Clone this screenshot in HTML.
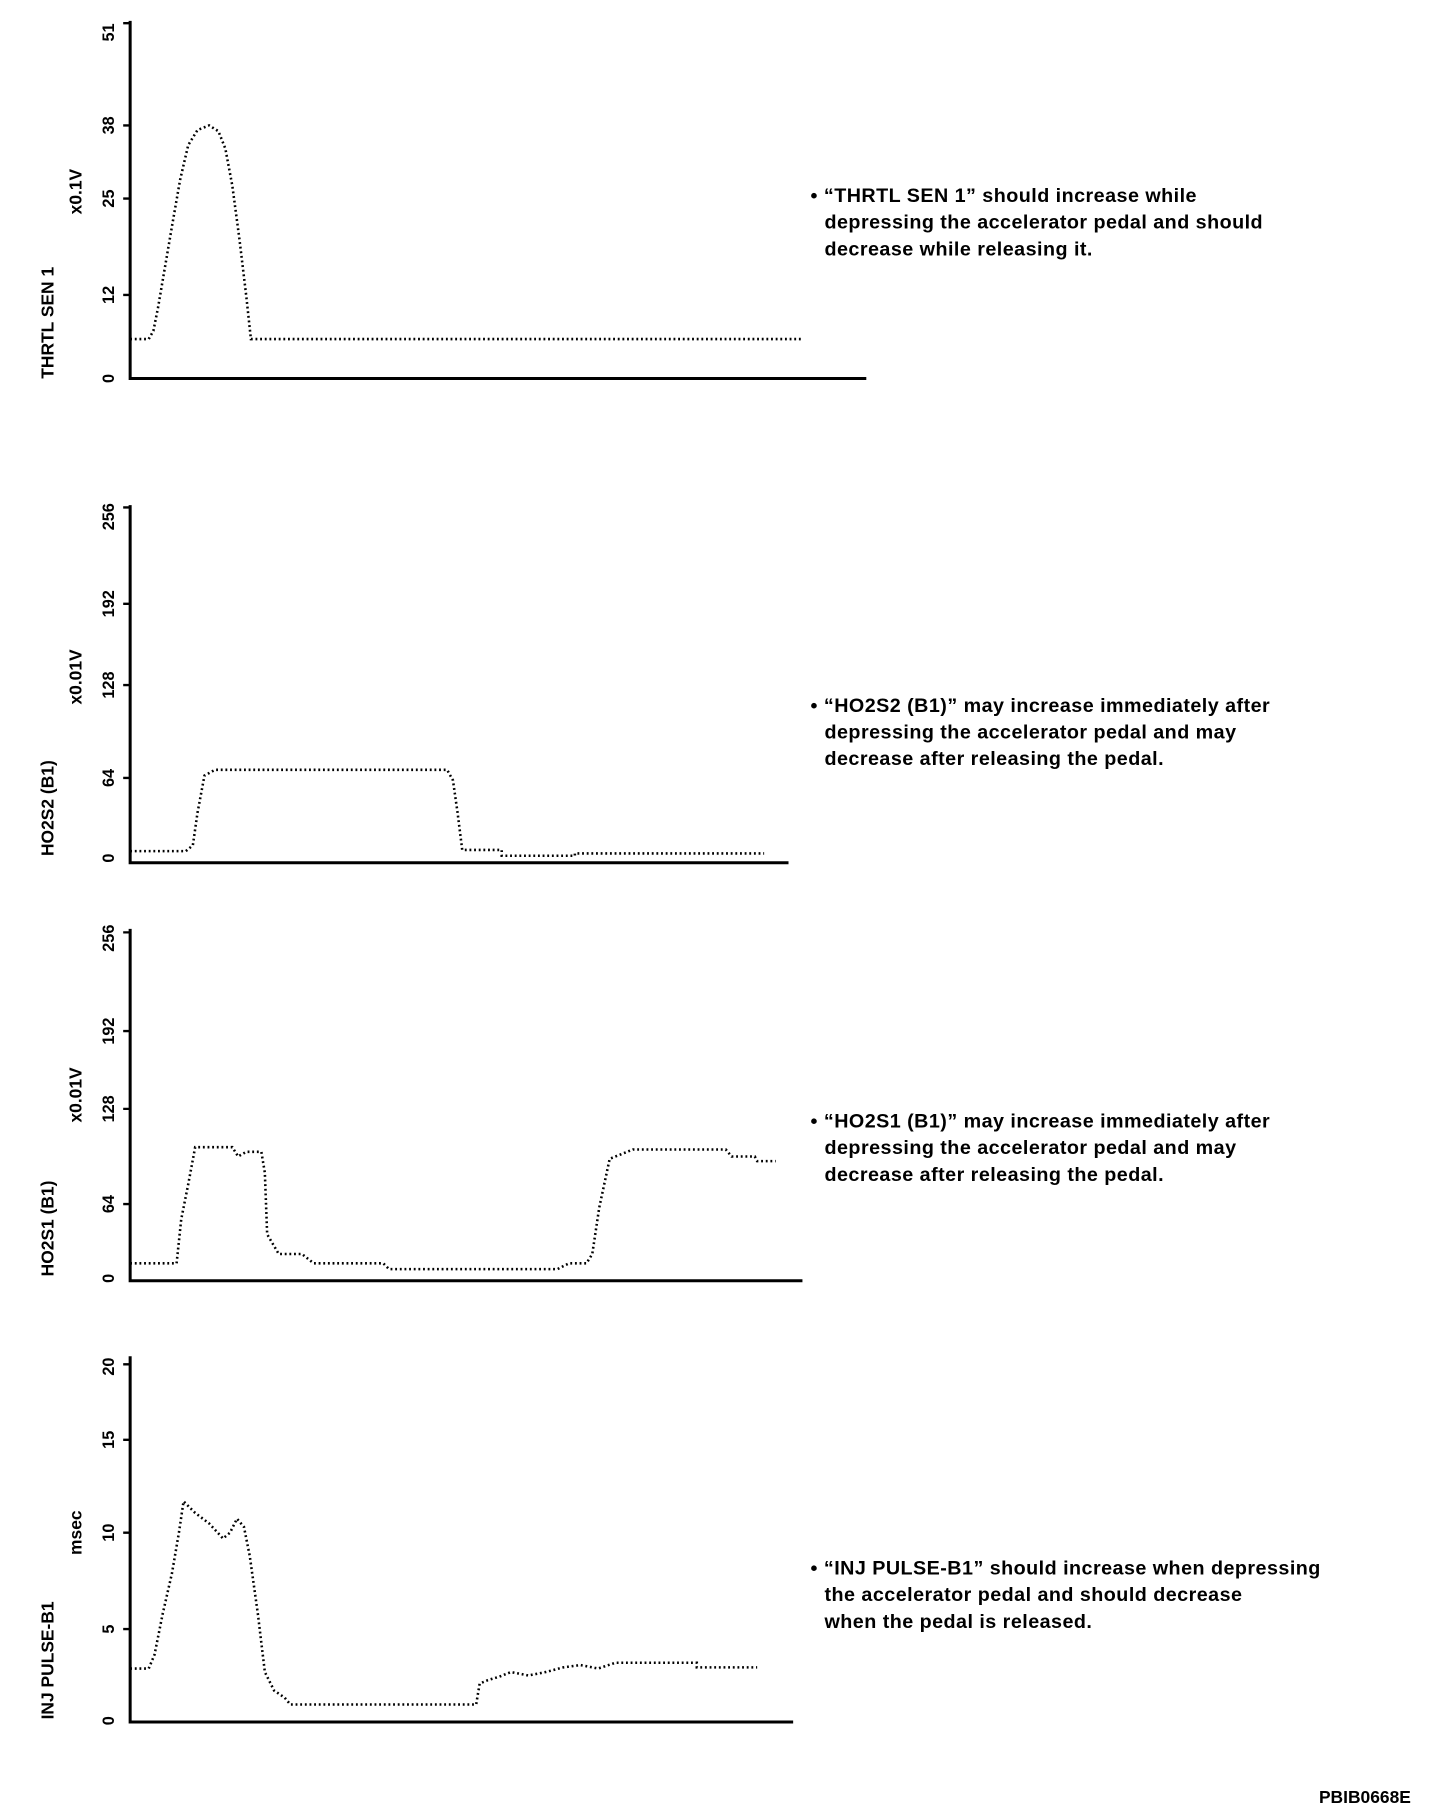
<!DOCTYPE html>
<html><head><style>
html,body{margin:0;padding:0;background:#fff}
svg{display:block}
text{font-family:"Liberation Sans",sans-serif;fill:#000}
.t{font-size:17px;font-weight:bold;letter-spacing:0.4px}
.tk{font-size:14px;font-weight:bold}
.lb{font-size:15px;font-weight:bold}
</style></head><body>
<svg width="1440" height="1816" viewBox="0 0 1240 1564" xmlns="http://www.w3.org/2000/svg">
<g fill="none" stroke="#000" stroke-width="2.6">
<path d="M112 18V326H746"/>
<path d="M112 435V743H679"/>
<path d="M112 800V1103H691"/>
<path d="M112 1168V1483H683"/>
</g>
<g stroke="#000" stroke-width="2">
<path d="M106 20h6M106 108h6M106 171h6M106 254h6"/>
<path d="M106 437h6M106 520h6M106 590h6M106 670h6"/>
<path d="M106 803h6M106 888h6M106 955h6M106 1037h6"/>
<path d="M106 1175h6M106 1240h6M106 1320h6M106 1403h6"/>
</g>
<g fill="none" stroke="#000" stroke-width="2.2" stroke-dasharray="1.6 2.4">
<path d="M112 292H128L132 285L136 265L142 230L148 195L155 155L162 125L170 112L180 108L188 113L194 128L200 160L206 205L212 255L216 292H690"/>
<path d="M112 733H160L166 728L170 700L176 668L185 663H385L390 672L394 700L398 732H432V737H495V735H658"/>
<path d="M112 1088H152L156 1050L162 1020L168 988H200L205 996L212 992H225L228 1010L230 1063L240 1080H260L270 1088H330L335 1093H480L490 1088H505L510 1080L516 1040L525 998L545 990H625L630 996H650L652 1000H668"/>
<path d="M112 1437H128L133 1425L140 1390L148 1355L154 1320L158 1293L168 1303L180 1312L192 1325L198 1320L204 1308L210 1315L215 1340L222 1390L228 1440L236 1456L245 1462L250 1468H410L413 1450L420 1447L430 1444L440 1440L455 1443L470 1440L485 1436L500 1434L515 1437L530 1432H600V1436H652"/>
</g>
<g class="tk">
<text transform="translate(98 28) rotate(-90)" text-anchor="middle">51</text>
<text transform="translate(98 108) rotate(-90)" text-anchor="middle">38</text>
<text transform="translate(98 171) rotate(-90)" text-anchor="middle">25</text>
<text transform="translate(98 254) rotate(-90)" text-anchor="middle">12</text>
<text transform="translate(98 326) rotate(-90)" text-anchor="middle">0</text>
<text transform="translate(98 445) rotate(-90)" text-anchor="middle">256</text>
<text transform="translate(98 520) rotate(-90)" text-anchor="middle">192</text>
<text transform="translate(98 590) rotate(-90)" text-anchor="middle">128</text>
<text transform="translate(98 670) rotate(-90)" text-anchor="middle">64</text>
<text transform="translate(98 739) rotate(-90)" text-anchor="middle">0</text>
<text transform="translate(98 808) rotate(-90)" text-anchor="middle">256</text>
<text transform="translate(98 888) rotate(-90)" text-anchor="middle">192</text>
<text transform="translate(98 955) rotate(-90)" text-anchor="middle">128</text>
<text transform="translate(98 1037) rotate(-90)" text-anchor="middle">64</text>
<text transform="translate(98 1101) rotate(-90)" text-anchor="middle">0</text>
<text transform="translate(98 1177) rotate(-90)" text-anchor="middle">20</text>
<text transform="translate(98 1240) rotate(-90)" text-anchor="middle">15</text>
<text transform="translate(98 1320) rotate(-90)" text-anchor="middle">10</text>
<text transform="translate(98 1403) rotate(-90)" text-anchor="middle">5</text>
<text transform="translate(98 1482) rotate(-90)" text-anchor="middle">0</text>
</g>
<g class="lb">
<text transform="translate(70 165) rotate(-90)" text-anchor="middle">x0.1V</text>
<text transform="translate(46 278) rotate(-90)" text-anchor="middle">THRTL SEN 1</text>
<text transform="translate(70 583) rotate(-90)" text-anchor="middle">x0.01V</text>
<text transform="translate(46 696) rotate(-90)" text-anchor="middle">HO2S2 (B1)</text>
<text transform="translate(70 943) rotate(-90)" text-anchor="middle">x0.01V</text>
<text transform="translate(46 1058) rotate(-90)" text-anchor="middle">HO2S1 (B1)</text>
<text transform="translate(70 1320) rotate(-90)" text-anchor="middle">msec</text>
<text transform="translate(46 1430) rotate(-90)" text-anchor="middle">INJ PULSE-B1</text>
</g>
<g class="t">
<text x="698" y="174">• “THRTL SEN 1” should increase while</text>
<text x="710" y="197">depressing the accelerator pedal and should</text>
<text x="710" y="220">decrease while releasing it.</text>
<text x="698" y="613">• “HO2S2 (B1)” may increase immediately after</text>
<text x="710" y="636">depressing the accelerator pedal and may</text>
<text x="710" y="659">decrease after releasing the pedal.</text>
<text x="698" y="971">• “HO2S1 (B1)” may increase immediately after</text>
<text x="710" y="994">depressing the accelerator pedal and may</text>
<text x="710" y="1017">decrease after releasing the pedal.</text>
<text x="698" y="1356">• “INJ PULSE-B1” should increase when depressing</text>
<text x="710" y="1379">the accelerator pedal and should decrease</text>
<text x="710" y="1402">when the pedal is released.</text>
<text x="1215" y="1553" text-anchor="end" style="font-size:15px;letter-spacing:0">PBIB0668E</text>
</g>
</svg>
</body></html>
